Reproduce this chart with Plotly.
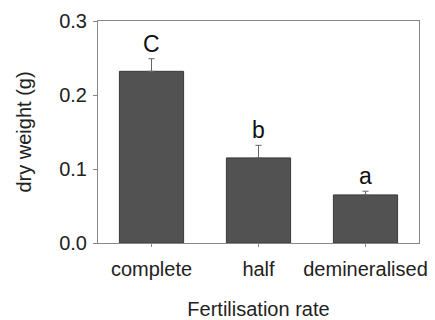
import plotly.graph_objects as go

categories = ["complete", "half", "demineralised"]
dry_weight = [0.232, 0.115, 0.065]
std_error = [0.017, 0.017, 0.005]
letters = ["C", "b", "a"]
y_ticks = [0.0, 0.1, 0.2, 0.3]
y_tick_labels = ["0.0", "0.1", "0.2", "0.3"]

font_family = "Liberation Sans, Arial, sans-serif"

fig = go.Figure()
fig.add_trace(go.Bar(
    x=categories,
    y=dry_weight,
    width=0.6,
    marker=dict(color="#525252", line=dict(color="#3a3a3a", width=1)),
    error_y=dict(type="data", array=std_error, arrayminus=[0, 0, 0],
                 color="#666666", thickness=1, width=3),
))

for cat, v, e, lab in zip(categories, dry_weight, std_error, letters):
    fig.add_annotation(x=cat, y=v + e, text=lab, showarrow=False,
                       yanchor="bottom", yshift=0,
                       font=dict(size=23, color="#111111", family=font_family))

fig.update_layout(
    width=435, height=320,
    margin=dict(l=98, r=16, t=21, b=77),
    paper_bgcolor="white", plot_bgcolor="white",
    showlegend=False,
    font=dict(family=font_family, size=20, color="#222222"),
    xaxis=dict(
        range=[-0.5, 2.5],
        automargin=False,
        showline=True, linecolor="#888888", linewidth=1, mirror=True,
        ticks="outside", ticklen=3, tickcolor="#888888",
        ticklabelstandoff=5,
        title=dict(text="Fertilisation rate", standoff=24, font=dict(size=20)),
        tickfont=dict(size=20),
    ),
    yaxis=dict(
        range=[0, 0.3],
        automargin=False,
        tickvals=y_ticks, ticktext=y_tick_labels,
        showline=True, linecolor="#888888", linewidth=1, mirror=True,
        ticks="outside", ticklen=4, tickcolor="#888888",
        ticklabelstandoff=2,
        showgrid=False, zeroline=False,
        title=dict(text="dry weight (g)", standoff=22, font=dict(size=20)),
        tickfont=dict(size=20),
    ),
)

fig.write_html("out.html")
